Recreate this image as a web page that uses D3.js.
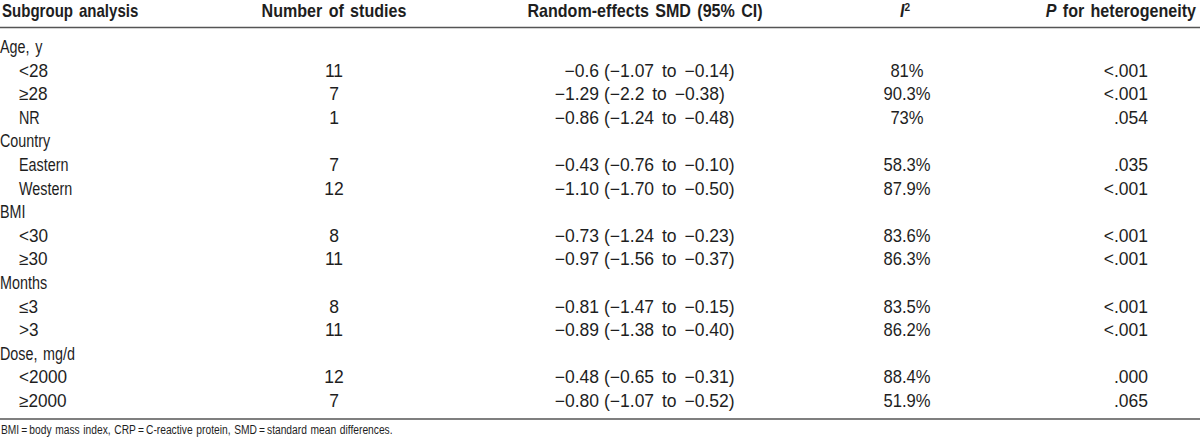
<!DOCTYPE html>
<html><head><meta charset="utf-8">
<script src="https://cdn.jsdelivr.net/npm/d3@7"></script>
<style>
html,body{margin:0;padding:0;background:#fff;}
svg{display:block;font-family:"Liberation Sans",Arial,sans-serif;}
</style></head>
<body>
<svg id="c" width="1200" height="447"></svg>
<script>
const headers = ["Subgroup analysis", "Number of studies", "Random-effects SMD (95% CI)", "I2", "P for heterogeneity"];
const rowLabels = ["Age, y", "<28", "≥28", "NR", "Country", "Eastern", "Western", "BMI", "<30", "≥30", "Months", "≤3", ">3", "Dose, mg/d", "<2000", "≥2000"];
const rowLevels = [0, 1, 1, 1, 0, 1, 1, 0, 1, 1, 0, 1, 1, 0, 1, 1];
const nStudies = [null, "11", "7", "1", null, "7", "12", null, "8", "11", null, "8", "11", null, "12", "7"];
const smdEstimate = [null, "−0.6", "−1.29", "−0.86", null, "−0.43", "−1.10", null, "−0.73", "−0.97", null, "−0.81", "−0.89", null, "−0.48", "−0.80"];
const smdCI = [null, "(−1.07 to −0.14)", "(−2.2 to −0.38)", "(−1.24 to −0.48)", null, "(−0.76 to −0.10)", "(−1.70 to −0.50)", null, "(−1.24 to −0.23)", "(−1.56 to −0.37)", null, "(−1.47 to −0.15)", "(−1.38 to −0.40)", null, "(−0.65 to −0.31)", "(−1.07 to −0.52)"];
const i2Values = [null, "81%", "90.3%", "73%", null, "58.3%", "87.9%", null, "83.6%", "86.3%", null, "83.5%", "86.2%", null, "88.4%", "51.9%"];
const pHet = [null, "<.001", "<.001", ".054", null, ".035", "<.001", null, "<.001", "<.001", null, "<.001", "<.001", null, ".000", ".065"];
const footnote = "BMI\u2009=\u2009body mass index, CRP\u2009=\u2009C-reactive protein, SMD\u2009=\u2009standard mean differences.";

const svg = d3.select("#c");
const ink = "#1e1e1e";
const y = d3.scaleLinear().domain([0, rowLabels.length - 1]).range([53, 407]);
const fs = 17.5, SX = 0.92;

function put(g, x, yy, anchor, size, sx, ws) {
  return g.append("text")
    .attr("transform", `translate(${x},${yy}) scale(${sx || SX},1)`)
    .attr("text-anchor", anchor || "start")
    .attr("font-size", size || fs)
    .attr("word-spacing", ws == null ? 2 : ws);
}

// header
const hdr = svg.append("g").attr("font-weight", "bold").attr("fill", ink);
put(hdr, 2, 17, "start", fs, 0.86).text(headers[0]);
put(hdr, 334, 17, "middle").text(headers[1]);
put(hdr, 645, 17, "middle").text(headers[2]);
const i2h = put(hdr, 905, 17, "middle");
i2h.append("tspan").attr("font-style", "italic").text("I");
i2h.append("tspan").attr("font-size", 11).attr("dy", -6).text("2");
const ph = put(hdr, 1196, 17, "end");
ph.append("tspan").attr("font-style", "italic").text("P");
ph.append("tspan").text(" for heterogeneity");

// rules
svg.append("line").attr("x1", 0).attr("x2", 1200).attr("y1", 27.5).attr("y2", 27.5).attr("stroke", "#555").attr("stroke-width", 1.6);
svg.append("line").attr("x1", 0).attr("x2", 1200).attr("y1", 419).attr("y2", 419).attr("stroke", "#555").attr("stroke-width", 1.6);

// body
const body = svg.append("g").attr("fill", ink);
d3.range(rowLabels.length).forEach(i => {
  const lab = rowLabels[i];
  put(body, rowLevels[i] ? 19 : 0, y(i), "start", fs, /\d/.test(lab) ? 0.98 : 0.82).text(lab);
  if (nStudies[i] === null) return;
  put(body, 334, y(i), "middle", fs, 1.0).text(nStudies[i]);
  put(body, 599, y(i), "end", fs, 1.0).text(smdEstimate[i]);
  put(body, 604, y(i), "start", fs, 1.0, 3).text(smdCI[i]);
  put(body, 907, y(i), "middle", fs, 0.95).text(i2Values[i]);
  put(body, 1148, y(i), "end", fs, 1.0).text(pHet[i]);
});

put(svg.append("g").attr("fill", ink), 1, 434, "start", 12.5, 0.82, 1).text(footnote);
</script>
</body></html>
